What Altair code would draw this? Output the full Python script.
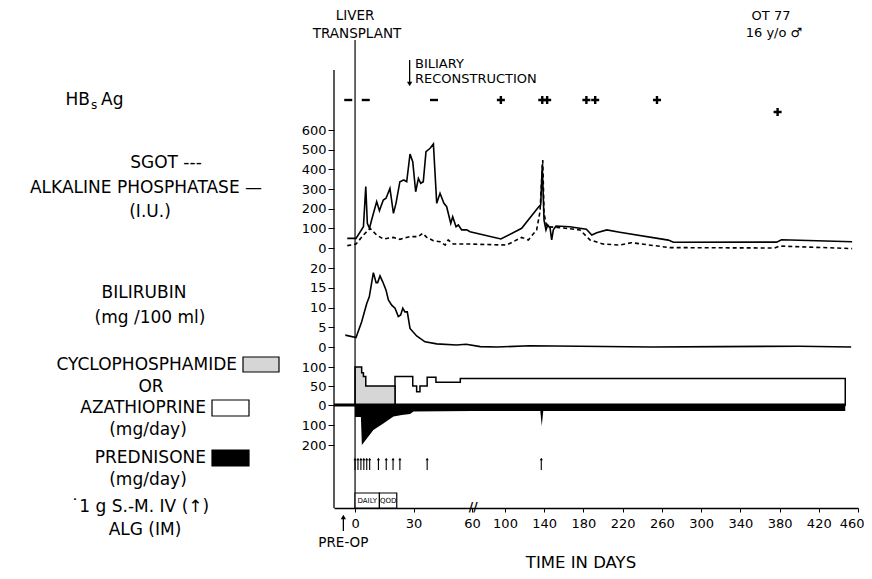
import altair as alt
import pandas as pd

FONT = "DejaVu Sans"

# ---------------- data ----------------
x_ticks = [0, 30, 60, 100, 140, 180, 220, 260, 300, 340, 380, 420, 460]
sgot_ticks = [0, 100, 200, 300, 400, 500, 600]
bili_ticks = [0, 5, 10, 15, 20]
drug_ticks = [-200, -100, 0, 50, 100]

hbs_days = [-3.5, 5.5, 40.5, 95, 138, 143, 183, 192, 255, 378]
hbs_signs = ["\u2212", "\u2212", "\u2212", "+", "+", "+", "+", "+", "+", "+"]

alk_days = [-4, 0.5, 4.3, 5.5, 6.3, 7.4, 8.5, 11.1, 12.5, 14.5, 15.9, 17.9, 19.7, 21, 23, 25,
            26.5, 28.2, 29.6, 31.1, 32.5, 33.7, 35, 36.4, 38.5, 40.2, 41.9, 43.6, 45.6, 47,
            49.1, 50.1, 51.8, 53, 54.7, 57.3, 59, 95, 117, 134, 136.4, 138, 139.8, 141.8,
            143.6, 146, 147.6, 149.3, 152, 166, 183, 188.5, 193.6, 203.8, 217, 266.6, 271.7,
            377, 382, 454]
alk_vals = [49, 49, 108, 312, 125, 100, 142, 236, 190, 244, 253, 303, 176, 227, 337, 346,
            337, 478, 439, 286, 354, 329, 337, 490, 507, 529, 227, 278, 227, 210,
            125, 159, 108, 117, 92, 92, 83, 46, 100, 207, 219, 420, 142, 92,
            117, 100, 41, 92, 112, 108, 95, 66, 78, 92, 80, 40, 29,
            30, 42, 32]

sgot_days = [-4, 0.5, 4.3, 7.7, 11.1, 14.5, 19.7, 23, 28.2, 32.5, 34.7, 36.8, 40.2, 43.6,
             46.2, 47.8, 50.4, 55.5, 59, 101.7, 117, 123.8, 132.3, 135.7, 138.5, 139.8,
             142.6, 152.8, 176.5, 186.7, 200, 217, 229, 268, 375, 380, 454]
sgot_vals = [12, 20, 66, 100, 66, 46, 54, 44, 58, 58, 75, 54, 37, 32,
             15, 41, 20, 20, 20, 15, 54, 41, 92, 185, 447, 176,
             108, 105, 92, 41, 20, 15, 27, 2, 0, 10, -3]

bili_days = [-5, 0.5, 3.4, 6, 7.3, 9.4, 10.8, 11.6, 12.8, 14.2, 15.9, 17.1, 18.8, 20.5, 22.2,
             23.4, 24.5, 25.6, 26.8, 28.2, 31.6, 35.9, 41.9, 52, 57, 70, 90, 125, 176, 250,
             320, 400, 453]
bili_vals = [3.0, 2.4, 6.4, 11, 12.7, 18.8, 16.3, 16.3, 18, 16.5, 14.4, 11.9, 10.6, 9.8, 7.7,
             8.1, 9.8, 8.9, 8.9, 4.7, 2.8, 1.3, 0.8, 0.5, 0.7, 0.1, 0, 0.3, 0.2, 0,
             0.1, 0.2, 0]

cyclo_days = [0, 3.4, 4.3, 5.5, 20.5]
cyclo_vals = [100, 85, 75, 50, 50]

aza_days = [20.5, 29.6, 31.6, 33.3, 37, 41.5, 54, 447]
aza_vals = [75, 50, 35, 50, 73, 60, 70, 70]

pred_days = [0, 3, 3.5, 9.4, 14.5, 19.7, 24, 28.2, 30, 60, 136, 137.5, 139, 447]
pred_vals = [60, 60, 200, 125, 92, 58, 50, 45, 33, 30, 30, 105, 30, 30]

sm_days = [0, 1.5, 3, 4.5, 6, 7.5, 12, 16, 19.5, 23, 37, 137]

alg_start = [0, 12.5]
alg_end = [12.5, 21.4]
alg_labels = ["DAILY", "QOD"]

# ---------------- layout ----------------
W = 524
H1, H2, H3, H4 = 58, 140, 97, 143

xscale = alt.Scale(domain=[-10.8, 60, 100, 460], range=[0, 138, 171, W],
                   nice=False, zero=False)
xaxis = alt.Axis(values=x_ticks, title=None, labelFont=FONT, labelFontSize=13,
                 tickSize=4, labelPadding=5, domainWidth=1.3,
                 labelAlign={"condition": {"test": "datum.value == 460", "value": "right"},
                             "value": "center"},
                 labelOffset={"condition": {"test": "datum.value == 460", "value": 6},
                              "value": 0})

PLUS = "M-1,0H1M0,-1V1"
MINUS = "M-1,0H1"


def one():
    return pd.DataFrame({"a": [0]})


def X(field, bottom=False):
    return alt.X(field, type="quantitative", scale=xscale,
                 axis=xaxis if bottom else None)


def XD(v, bottom=False):
    return alt.X(datum=v, type="quantitative", scale=xscale,
                 axis=xaxis if bottom else None)


def txt(s, x, y, size=17, align="center", weight="normal"):
    return alt.Chart(one()).mark_text(text=s, font=FONT, fontSize=size, align=align,
                                      baseline="middle", color="black",
                                      fontWeight=weight).encode(
        x=alt.value(x), y=alt.value(y))


def left_rule(h):
    return alt.Chart(one()).mark_rule(color="black", strokeWidth=1.3).encode(
        x=alt.value(0), y=alt.value(0), y2=alt.value(h))


def transplant(top, h, bottom=False):
    return alt.Chart(one()).mark_rule(color="black", strokeWidth=1.2).encode(
        x=XD(0, bottom), y=alt.value(top), y2=alt.value(h))


def box(x1, x2, y1, y2, fill):
    return alt.Chart(one()).mark_rect(fill=fill, stroke="black", strokeWidth=1.2).encode(
        x=alt.value(x1), x2=alt.value(x2), y=alt.value(y1), y2=alt.value(y2))


# ---------- panel 1 : annotations + HBsAg ----------
hbs = pd.DataFrame({"day": hbs_days, "sign": hbs_signs})
anchor = alt.Chart(one()).mark_rule(opacity=0, strokeWidth=0.01).encode(
    x=alt.value(-326), x2=alt.value(-326), y=alt.value(-62), y2=alt.value(-62))
bil_arrow = alt.Chart(one()).mark_rule(color="black", strokeWidth=1.3).encode(
    x=XD(28), y=alt.value(-10), y2=alt.value(13))
bil_head = alt.Chart(one()).mark_point(shape="triangle-down", filled=True, color="black",
                                       size=28, opacity=1).encode(
    x=XD(28), y=alt.value(14))
sign_shape = alt.Shape("sign:N", legend=None,
                       scale=alt.Scale(domain=["+", "\u2212"], range=[PLUS, MINUS]))
hbs_row = alt.Chart(hbs).mark_point(filled=False, color="black", strokeWidth=2.4,
                                    size=64, opacity=1).encode(
    x=X("day"), y=alt.value(30), shape=sign_shape).transform_filter("datum.day < 300")
hbs_low = alt.Chart(hbs).mark_point(filled=False, color="black", strokeWidth=2.4,
                                    size=64, opacity=1).encode(
    x=X("day"), y=alt.value(42), shape=sign_shape).transform_filter("datum.day >= 300")

p1 = alt.layer(
    anchor,
    left_rule(H1),
    transplant(-30, H1),
    txt("LIVER", 21, -54, size=13.5),
    txt("TRANSPLANT", 23, -36, size=13.5),
    bil_arrow, bil_head,
    txt("BILIARY", 81, -6, size=13, align="left"),
    txt("RECONSTRUCTION", 81, 9, size=13, align="left"),
    txt("OT  77", 437, -54, size=13),
    txt("16 y/o  \u2642", 440, -37, size=13),
    txt("HB", -244, 30, size=17, align="right"),
    txt("s", -243, 35, size=12, align="left"),
    txt("Ag", -233, 30, size=17, align="left"),
    hbs_row, hbs_low,
).properties(width=W, height=H1)

# ---------- panel 2 : SGOT / alkaline phosphatase ----------
y2scale = alt.Scale(domain=[0, 600], range=[120, 2], nice=False, zero=False)
y2axis = alt.Axis(values=sgot_ticks, title=None, domain=False, tickSize=6,
                  labelFont=FONT, labelFontSize=13, labelPadding=2)
alk = pd.DataFrame({"day": alk_days, "val": alk_vals})
sgot = pd.DataFrame({"day": sgot_days, "val": sgot_vals})
p2 = alt.layer(
    left_rule(H2),
    transplant(0, H2),
    alt.Chart(alk).mark_line(color="black", strokeWidth=1.6).encode(
        x=X("day"), y=alt.Y("val:Q", scale=y2scale, axis=y2axis)),
    alt.Chart(sgot).mark_line(color="black", strokeWidth=1.6, strokeDash=[4, 3]).encode(
        x=X("day"), y=alt.Y("val:Q", scale=y2scale, axis=y2axis)),
    txt("SGOT ---", -168, 35),
    txt("ALKALINE  PHOSPHATASE \u2014", -188, 60, size=17),
    txt("(I.U.)", -184, 84),
).properties(width=W, height=H2)

# ---------- panel 3 : bilirubin ----------
y3scale = alt.Scale(domain=[0, 20], range=[79, 0], nice=False, zero=False)
y3axis = alt.Axis(values=bili_ticks, title=None, domain=False, tickSize=6,
                  labelFont=FONT, labelFontSize=13, labelPadding=2)
bili = pd.DataFrame({"day": bili_days, "val": bili_vals})
p3 = alt.layer(
    left_rule(H3),
    transplant(0, H3),
    alt.Chart(bili).mark_line(color="black", strokeWidth=1.6).encode(
        x=X("day"), y=alt.Y("val:Q", scale=y3scale, axis=y3axis)),
    txt("BILIRUBIN", -190, 25),
    txt("(mg /100 ml)", -184, 50),
).properties(width=W, height=H3)

# ---------- panel 4 : drugs, S-M, ALG, x axis ----------
y4scale = alt.Scale(domain=[-200, 0, 100], range=[80, 40, 2], nice=False, zero=False)
y4axis = alt.Axis(values=drug_ticks, title=None, domain=False, tickSize=6,
                  labelFont=FONT, labelFontSize=13, labelPadding=2,
                  labelExpr="abs(datum.value)")
cyc = pd.DataFrame({"day": cyclo_days, "val": cyclo_vals})
aza = pd.DataFrame({"day": aza_days, "val": aza_vals})
pred = pd.DataFrame({"day": pred_days, "neg": [-v for v in pred_vals]})
sm = pd.DataFrame({"day": sm_days})
alg = pd.DataFrame({"s": alg_start, "e": alg_end, "lab": alg_labels})

zero_band = alt.Chart(one()).mark_rule(color="black", strokeWidth=3).encode(
    x=XD(-10.8, True), x2=alt.X2(datum=447),
    y=alt.Y(datum=0, type="quantitative", scale=y4scale, axis=y4axis))
cyc_area = alt.Chart(cyc).mark_area(interpolate="step-after", fill="#d6d6d6",
                                    stroke="black", strokeWidth=1.5).encode(
    x=X("day", True), y=alt.Y("val:Q", scale=y4scale, axis=y4axis), y2=alt.datum(0))
aza_area = alt.Chart(aza).mark_area(interpolate="step-after", fill="white",
                                    stroke="black", strokeWidth=1.5).encode(
    x=X("day", True), y=alt.Y("val:Q", scale=y4scale, axis=y4axis), y2=alt.datum(0))
pred_area = alt.Chart(pred).mark_area(color="black").encode(
    x=X("day", True), y=alt.Y("neg:Q", scale=y4scale, axis=y4axis), y2=alt.datum(0))
sm_shafts = alt.Chart(sm).mark_rule(color="black", strokeWidth=1.1).encode(
    x=X("day", True), y=alt.value(94), y2=alt.value(105))
sm_heads = alt.Chart(sm).mark_point(shape="triangle-up", filled=True, color="black",
                                    size=10, opacity=1).encode(
    x=X("day", True), y=alt.value(94))
alg_boxes = alt.Chart(alg).mark_rect(fill="white", stroke="black", strokeWidth=1.2).encode(
    x=X("s", True), x2="e:Q", y=alt.value(128), y2=alt.value(143))
alg_text = alt.Chart(alg).transform_calculate(m="(datum.s + datum.e) / 2").mark_text(
    font=FONT, fontSize=7, color="black").encode(
    x=X("m", True), y=alt.value(136), text="lab:N")
preop_line = alt.Chart(one()).mark_rule(color="black", strokeWidth=1.3).encode(
    x=XD(-6, True), y=alt.value(153), y2=alt.value(166))
preop_head = alt.Chart(one()).mark_point(shape="triangle-up", filled=True, color="black",
                                         size=28, opacity=1).encode(
    x=XD(-6, True), y=alt.value(152))
preop_text = alt.Chart(one()).mark_text(text="PRE-OP", font=FONT, fontSize=13.5,
                                        color="black").encode(
    x=XD(-6, True), y=alt.value(178))
brk = alt.Chart(one()).mark_text(text="//", font=FONT, fontSize=12, fontWeight="bold",
                                 color="black").encode(
    x=XD(61.5, True), y=alt.value(142))

p4 = alt.layer(
    left_rule(H4),
    aza_area, cyc_area, pred_area, zero_band,
    transplant(0, H4, True),
    sm_shafts, sm_heads, alg_boxes, alg_text,
    preop_line, preop_head, preop_text, brk,
    txt("TIME  IN  DAYS", 247, 198, size=16.5),
    txt("CYCLOPHOSPHAMIDE", -97, 0, align="right"),
    box(-91, -55, -8, 7, "#d6d6d6"),
    txt("OR", -183, 22),
    txt("AZATHIOPRINE", -128, 43, align="right"),
    box(-122, -85, 35, 51, "white"),
    txt("(mg/day)", -186, 65),
    txt("PREDNISONE", -128, 93, align="right"),
    box(-122, -85, 85, 101, "black"),
    txt("(mg/day)", -186, 115),
    txt("\u02d91 g  S.-M.  IV  (\u2191)", -194, 142),
    txt("ALG  (IM)", -189, 165),
).properties(width=W, height=H4)

chart = alt.vconcat(p1, p2, p3, p4, spacing=0, bounds="flush").properties(
    padding=0
).configure_view(stroke=None).configure_axis(
    labelColor="black", domainColor="black", tickColor="black", grid=False,
    labelFont=FONT
)

chart.save("out.html", embed_options={"renderer": "svg", "actions": False})
